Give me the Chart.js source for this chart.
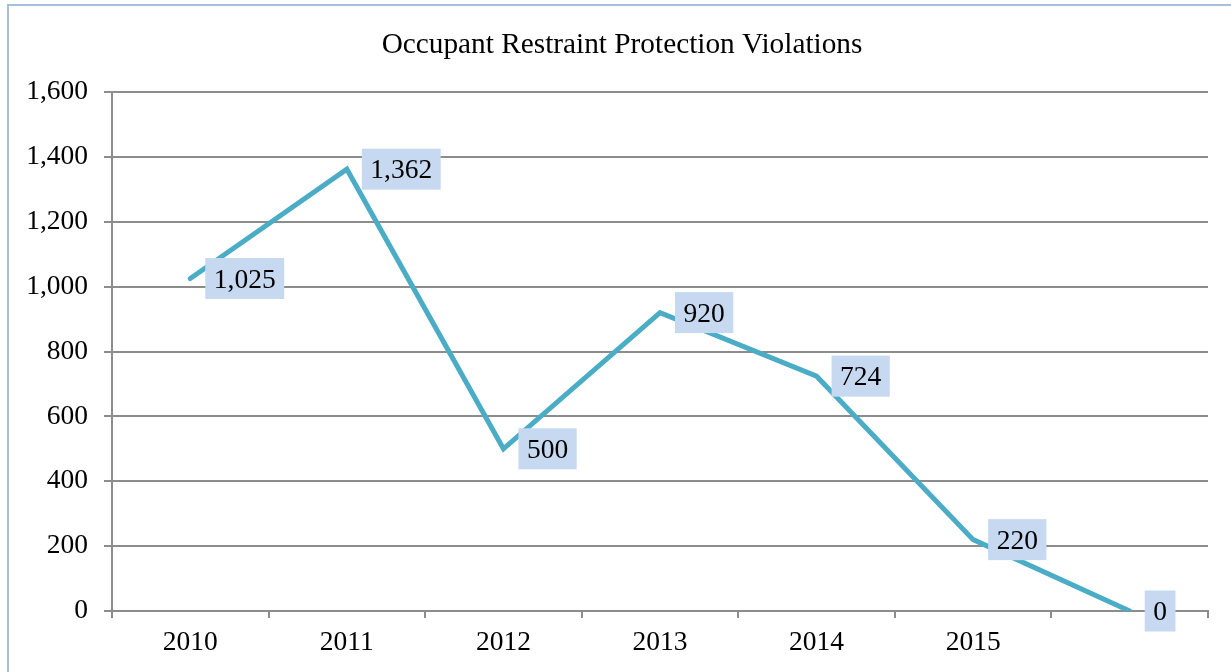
<!DOCTYPE html>
<html>
<head>
<meta charset="utf-8">
<title>Occupant Restraint Protection Violations</title>
<script src="https://cdn.jsdelivr.net/npm/chart.js@4.4.1/dist/chart.umd.min.js"></script>
<style>
  html, body { margin: 0; padding: 0; background: #fff; }
  #wrap { width: 1231px; height: 672px; }
</style>
</head>
<body>
<div id="wrap"><canvas id="violationsChart" width="1231" height="672"></canvas></div>
<script>
(function () {
  'use strict';

  var title = 'Occupant Restraint Protection Violations';
  var years = ['2010', '2011', '2012', '2013', '2014', '2015', ''];
  var violations = [1025, 1362, 500, 920, 724, 220, 0];
  var yTicks = [0, 200, 400, 600, 800, 1000, 1200, 1400, 1600];

  var fontFamily = '"Liberation Serif", "Times New Roman", serif';
  var fontSize = 27.5;
  var titleSize = 29.3;
  var axisGray = '#8c8c8c';

  function fmt(v) { return v.toLocaleString('en-US'); }

  // white page, light blue frame, and the title centred on the frame
  var framePlugin = {
    id: 'frame',
    beforeDraw: function (chart) {
      var ctx = chart.ctx;
      ctx.save();
      ctx.fillStyle = '#fff';
      ctx.fillRect(0, 0, chart.width, chart.height);
      ctx.strokeStyle = '#a7bfde';
      ctx.lineWidth = 2;
      ctx.beginPath();
      ctx.moveTo(8, chart.height + 2);
      ctx.lineTo(8, 5);
      ctx.lineTo(chart.width + 2, 5);
      ctx.stroke();

      ctx.fillStyle = '#000';
      ctx.font = titleSize + 'px ' + fontFamily;
      ctx.textAlign = 'center';
      ctx.textBaseline = 'alphabetic';
      ctx.fillText(title, 622, 53);
      ctx.restore();
    }
  };

  // boxed value labels to the right of each point
  var boxLabels = {
    id: 'boxLabels',
    afterDatasetsDraw: function (chart) {
      var ctx = chart.ctx;
      var meta = chart.getDatasetMeta(0);
      ctx.save();
      ctx.font = fontSize + 'px ' + fontFamily;
      ctx.textBaseline = 'alphabetic';
      ctx.textAlign = 'left';
      meta.data.forEach(function (pt, i) {
        var text = fmt(violations[i]);
        var tw = ctx.measureText(text).width;
        var padX = 8.5, h = 41;
        var x = pt.x + 15, y = pt.y - h / 2;
        ctx.fillStyle = '#c6d9f1';
        ctx.fillRect(x, y, tw + padX * 2, h);
        ctx.fillStyle = '#000';
        ctx.fillText(text, x + padX, pt.y + fontSize * 0.33);
      });
      ctx.restore();
    }
  };

  new Chart(document.getElementById('violationsChart'), {
    type: 'line',
    data: {
      labels: years,
      datasets: [{
        label: 'Violations',
        data: violations,
        borderColor: '#4bacc6',
        borderWidth: 5,
        borderCapStyle: 'round',
        borderJoinStyle: 'miter',
        tension: 0,
        fill: false,
        pointRadius: 0,
        pointHoverRadius: 0
      }]
    },
    options: {
      responsive: false,
      animation: false,
      events: [],
      layout: { padding: { left: 0, right: 23, top: 92, bottom: 0 } },
      plugins: {
        legend: { display: false },
        tooltip: { enabled: false },
        title: { display: false }
      },
      scales: {
        x: {
          offset: true,
          grid: {
            offset: true,
            drawOnChartArea: false,
            drawTicks: true,
            tickLength: 7,
            color: axisGray,
            lineWidth: 2
          },
          border: { display: true, color: axisGray, width: 2 },
          ticks: {
            color: '#000',
            padding: 8,
            maxRotation: 0,
            autoSkip: false,
            font: { family: fontFamily, size: fontSize }
          },
          afterFit: function (scale) { scale.height = 61; }
        },
        y: {
          min: 0,
          max: 1600,
          afterBuildTicks: function (scale) {
            scale.ticks = yTicks.map(function (v) { return { value: v }; });
          },
          grid: {
            color: axisGray,
            lineWidth: 2,
            drawTicks: true,
            tickLength: 8
          },
          border: { display: true, color: axisGray, width: 2 },
          ticks: {
            color: '#000',
            padding: 16,
            callback: function (v) { return fmt(v); },
            font: { family: fontFamily, size: fontSize }
          },
          afterFit: function (scale) { scale.width = 112; }
        }
      }
    },
    plugins: [framePlugin, boxLabels]
  });
})();
</script>
</body>
</html>
